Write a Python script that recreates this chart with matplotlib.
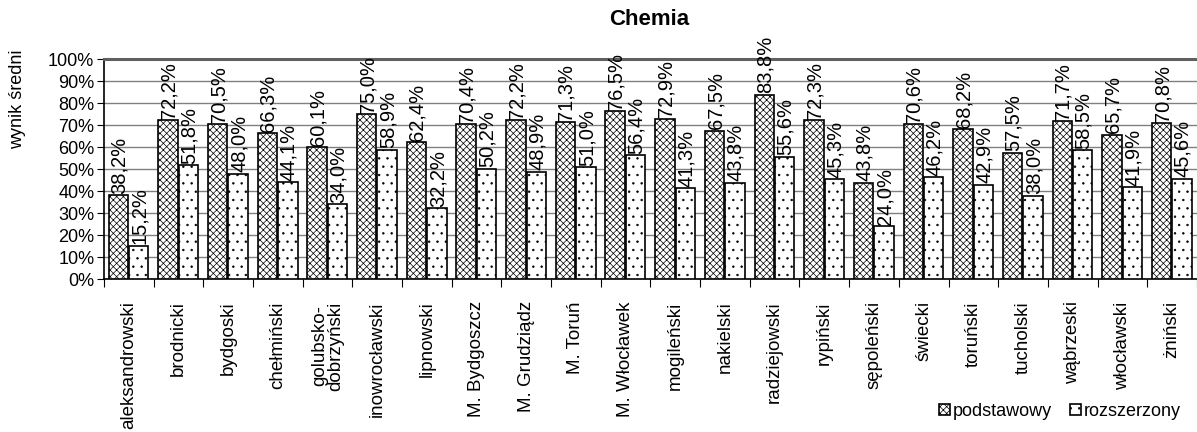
import matplotlib.pyplot as plt
import numpy as np

plt.rcParams['font.family'] = ['Liberation Sans', 'DejaVu Sans']
plt.rcParams['hatch.linewidth'] = 0.5

powiaty = ['aleksandrowski', 'brodnicki', 'bydgoski', 'chełmiński', 'golubsko-\ndobrzyński',
           'inowrocławski', 'lipnowski', 'M. Bydgoszcz', 'M. Grudziądz', 'M. Toruń',
           'M. Włocławek', 'mogileński', 'nakielski', 'radziejowski', 'rypiński',
           'sępoleński', 'świecki', 'toruński', 'tucholski', 'wąbrzeski',
           'włocławski', 'żniński']
podstawowy = [38.2, 72.2, 70.5, 66.3, 60.1, 75.0, 62.4, 70.4, 72.2, 71.3, 76.5,
              72.9, 67.5, 83.8, 72.3, 43.8, 70.6, 68.2, 57.5, 71.7, 65.7, 70.8]
rozszerzony = [15.2, 51.8, 48.0, 44.1, 34.0, 58.9, 32.2, 50.2, 48.9, 51.0, 56.4,
               41.3, 43.8, 55.6, 45.3, 24.0, 46.2, 42.9, 38.0, 58.5, 41.9, 45.6]

x = np.arange(len(powiaty))
w = 0.39
fs = 13

fig = plt.figure(figsize=(11.97, 4.32), dpi=100)
ax = fig.add_axes([0.0869, 0.354, 0.913, 0.509])

b1 = ax.bar(x - 0.21, podstawowy, w, color='white', edgecolor='black', linewidth=1.2,
            hatch='xxxxx', label='podstawowy', zorder=3)
b2 = ax.bar(x + 0.20, rozszerzony, w, color='white', edgecolor='black', linewidth=1.2,
            hatch='..', label='rozszerzony', zorder=3)

fmt = lambda v: f'{v:.1f}%'.replace('.', ',')
for xi, v in zip(x - 0.19, podstawowy):
    ax.text(xi, v + 0.6, fmt(v), rotation=90, ha='center', va='bottom', fontsize=14.5, zorder=4)
for xi, v in zip(x + 0.22, rozszerzony):
    ax.text(xi, v + 0.6, fmt(v), rotation=90, ha='center', va='bottom', fontsize=14.5, zorder=4)

ax.set_xlim(-0.5, len(powiaty) - 0.5)
ax.set_ylim(0, 100)
ax.set_yticks(np.arange(0, 101, 10))
ax.set_yticklabels([f'{t}%' for t in range(0, 101, 10)], fontsize=fs)
ax.yaxis.grid(True, color='#808080', linewidth=1.0, zorder=0)

ax.set_xticks(np.arange(-0.5, len(powiaty), 1.0))
ax.set_xticklabels([])
ax.set_xticks(x, minor=True)
ax.set_xticklabels(powiaty, minor=True, rotation=90, va='top', ha='center', fontsize=13.5,
                   linespacing=0.95)
ax.tick_params(axis='x', which='major', length=6, direction='out')
ax.tick_params(axis='x', which='minor', length=0, pad=16)
ax.tick_params(axis='y', length=5, direction='out', pad=2)

ax.spines['right'].set_visible(False)
ax.spines['top'].set_color('#606060')
ax.spines['top'].set_linewidth(2.2)
ax.spines['left'].set_linewidth(1.2)
ax.spines['bottom'].set_linewidth(1.2)

fig.text(18 / 1197, 1 - 99 / 432, 'wynik średni', rotation=90, fontsize=fs,
         ha='center', va='center')
fig.text(0.542, 0.955, 'Chemia', fontsize=16, fontweight='bold', ha='center', va='center')

fig.legend(handles=[b1, b2], loc='lower right', bbox_to_anchor=(1.0, -0.01), ncol=2,
           frameon=False, fontsize=fs, handlelength=0.6, handleheight=0.6,
           handletextpad=0.15, columnspacing=1.0)

fig.savefig('out.png')
